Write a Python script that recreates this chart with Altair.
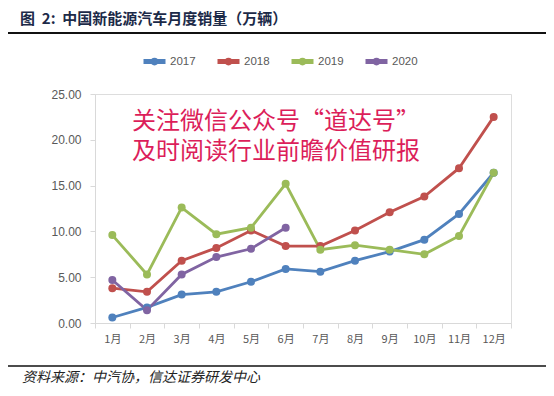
import altair as alt
import pandas as pd

months = ["1月", "2月", "3月", "4月", "5月", "6月", "7月", "8月", "9月", "10月", "11月", "12月"]
s2017 = [0.6, 1.7, 3.1, 3.4, 4.5, 5.9, 5.6, 6.8, 7.8, 9.1, 11.9, 16.4]
s2018 = [3.8, 3.4, 6.8, 8.2, 10.1, 8.4, 8.4, 10.1, 12.1, 13.8, 16.9, 22.5]
s2019 = [9.6, 5.3, 12.6, 9.7, 10.4, 15.2, 8.0, 8.5, 8.0, 7.5, 9.5, 16.4]
s2020 = [4.7, 1.4, 5.3, 7.2, 8.1, 10.4]
series = ["2017", "2018", "2019", "2020"]
colors = ["#4F81BD", "#C0504D", "#9BBB59", "#8064A2"]

rows = []
for name, vals in zip(series, [s2017, s2018, s2019, s2020]):
    for m, v in zip(months, vals):
        rows.append({"month": m, "year": name, "value": v})
df = pd.DataFrame(rows)

font = "Noto Sans CJK SC"

x = alt.X("month:N", sort=months, title=None,
          scale=alt.Scale(paddingInner=0, paddingOuter=0),
          axis=alt.Axis(labelAngle=0, labelFontSize=11, labelColor="#595959",
                        domainColor="#d9d9d9", tickColor="#d9d9d9", tickSize=5,
                        labelPadding=5, tickBand="extent", labelFont=font))
y = alt.Y("value:Q", title=None, scale=alt.Scale(domain=[0, 25], nice=False),
          axis=alt.Axis(values=[0, 5, 10, 15, 20, 25], format=".2f", grid=False,
                        labelFontSize=12, labelColor="#595959", domainColor="#d9d9d9",
                        tickColor="#d9d9d9", tickSize=5, labelPadding=9, labelFont="Liberation Sans"))

sym = "M-1,0L1,0M-0.12,0A0.12,0.12,0,1,1,0.12,0A0.12,0.12,0,1,1,-0.12,0Z"
color = alt.Color("year:N", scale=alt.Scale(domain=series, range=colors), title=None,
                  legend=alt.Legend(orient="none", legendX=46, legendY=-46, direction="horizontal",
                                    symbolType=sym, symbolSize=484, symbolStrokeWidth=5,
                                    labelFontSize=11.5, labelColor="#595959", labelFont="Liberation Sans",
                                    columnPadding=11, labelOffset=2))

lines = alt.Chart(df).mark_line(strokeWidth=2.8).encode(x=x, y=y, color=color)
points = alt.Chart(df).mark_circle(size=64, opacity=1).encode(
    x=x, y=y, color=alt.Color("year:N", scale=alt.Scale(domain=series, range=colors), legend=None))

title = alt.Chart().mark_text(align="left", baseline="middle", fontSize=15, fontWeight="bold",
                              color="#1c2a48", font=font).encode(
    x=alt.value(-75), y=alt.value(-75),
    text=alt.value("图\u00a0\u00a02:\u00a0\u00a0中国新能源汽车月度销量（万辆）"))
rule_top = alt.Chart().mark_rule(color="#111111", strokeWidth=2).encode(
    x=alt.value(-87), x2=alt.value(451), y=alt.value(-61))
rule_bot = alt.Chart().mark_rule(color="#111111", strokeWidth=1.5).encode(
    x=alt.value(-87), x2=alt.value(451), y=alt.value(272))
source = alt.Chart().mark_text(align="left", baseline="middle", fontSize=14, fontStyle="italic",
                               color="#222222", font=font).encode(
    x=alt.value(-73), y=alt.value(284), text=alt.value("资料来源：中汽协，信达证券研发中心"))
wm1 = alt.Chart().mark_text(align="left", baseline="middle", fontSize=24, color="#dc1e5a", font=font).encode(
    x=alt.value(37), y=alt.value(28), text=alt.value("关注微信公众号“道达号”"))
wm2 = alt.Chart().mark_text(align="left", baseline="middle", fontSize=24, color="#dc1e5a", font=font).encode(
    x=alt.value(37), y=alt.value(58), text=alt.value("及时阅读行业前瞻价值研报"))

chart = alt.layer(lines, points, title, rule_top, rule_bot, source, wm1, wm2).properties(
    width=416, height=229,
    autosize=alt.AutoSizeParams(type="none"),
    padding={"left": 87, "top": 86, "right": 35, "bottom": 65},
).configure_view(stroke=None).configure(background="white")

chart.save("out.html", embed_options={"renderer": "svg", "actions": False})
